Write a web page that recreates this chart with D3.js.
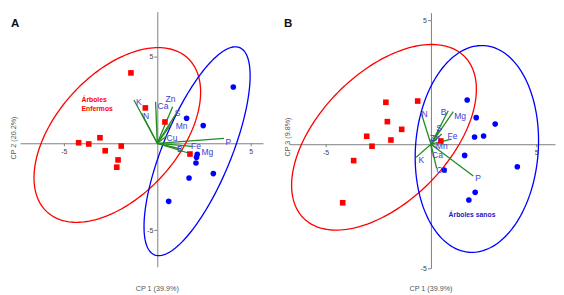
<!DOCTYPE html>
<html>
<head>
<meta charset="utf-8">
<script src="https://cdn.jsdelivr.net/npm/d3@7"></script>
<style>
  body { margin: 0; background: #fff; }
  svg { display: block; font-family: "Liberation Sans", Arial, sans-serif; }
</style>
</head>
<body>
<div id="chart"></div>
<script>
// size of the page
const width = 564;
const height = 295;

// ---- data: panel A (CP1 vs CP2) ----
const enfermosA = [[-1.41, 4.06], [-0.64, 2.04], [0.41, 1.23], [-3.07, 0.32], [-4.21, 0.03],
  [-3.67, -0.04], [-1.93, -0.16], [-2.79, -0.43], [-2.10, -0.96], [-2.17, -1.38], [1.75, -0.62]];
const sanosA = [[4.07, 3.25], [1.57, 1.44], [2.46, 1.02], [2.14, -0.63], [2.10, -0.81],
  [2.07, -1.14], [3.00, -1.75], [1.70, -2.00], [0.61, -3.35]];
const varsA = ["K", "N", "Ca", "Zn", "S", "Mn", "Cu", "P", "Fe", "B", "Mg"];
const loadA = [[-1.25, 2.50], [-0.84, 1.73], [-0.09, 2.40], [0.82, 2.11], [1.09, 1.86], [0.77, 1.15],
  [0.50, 0.42], [3.57, 0.28], [1.86, -0.18], [1.27, -0.33], [1.75, -0.59]];
// ellipses: [cx, cy, semi-major, semi-minor, angle in degrees]
const ellEnfermosA = [-2.14, 0.48, 5.83, 3.36, 52];
const ellSanosA = [2.13, -0.46, 6.40, 1.85, 69.4];

// ---- data: panel B (CP1 vs CP3) ----
const enfermosB = [[-2.14, 1.69], [-0.63, 1.74], [-2.07, 0.91], [-1.39, 0.60], [-3.05, 0.32],
  [-1.90, 0.17], [-2.80, -0.08], [-3.67, -0.66], [-4.19, -2.36], [0.47, 0.13]];
const sanosB = [[1.72, 1.78], [2.15, 1.07], [3.05, 0.81], [2.07, 0.29], [2.50, 0.33],
  [1.60, -0.45], [4.10, -0.91], [0.63, -1.04], [2.10, -1.94], [1.80, -2.25]];
const varsB = ["N", "B", "Mg", "Fe", "S", "Zn", "Mn", "Ca", "K", "Cu", "P"];
const loadB = [[-0.47, 1.28], [0.82, 1.35], [1.06, 1.31], [0.98, 0.21], [0.39, 0.57], [0.51, 0.41],
  [0.28, -0.15], [0.05, -0.35], [-0.71, -0.53], [0.27, -0.97], [2.01, -1.28]];
const ellEnfermosB = [-2.23, 0.28, 5.05, 2.78, 36.4];
const ellSanosB = [2.18, -0.19, 4.18, 2.91, 83.7];

const ticks = [-5, 5];

// label nudges (px) for the loading names
const nudgeA = { K: [2, 5.5], N: [1.5, 6], Ca: [2, 7], Zn: [-7, -5], S: [-3, 5], Mn: [4, 5.5],
  Cu: [0, 5], P: [1.5, 6.5], Fe: [-1, 2.5], B: [-4, 3], Mg: [11.5, 1.5] };
const nudgeB = { N: [0.5, 5], B: [-7.5, 4], Mg: [1, 7], Fe: [-4, -0.5], S: [-3, 1], Zn: [-12, 7],
  Mn: [-1, 1.5], Ca: [0, 5.5], K: [2.5, 5.5], Cu: [-0.5, 4.5], P: [2, 5] };

const red = "#ff0000", blue = "#0000ff", green = "#228b22", labBlue = "#3c3cd2";

const svg = d3.select("#chart")
  .append("svg")
  .attr("width", width)
  .attr("height", height);

function ellipsePoints(e) {
  const [cx, cy, a, b, deg] = e;
  const ang = deg * Math.PI / 180;
  return d3.range(0, 360, 2).map(t => {
    const r = t * Math.PI / 180;
    return [cx + a * Math.cos(r) * Math.cos(ang) - b * Math.sin(r) * Math.sin(ang),
            cy + a * Math.cos(r) * Math.sin(ang) + b * Math.sin(r) * Math.cos(ang)];
  });
}

function drawPanel(p) {
  const x = d3.scaleLinear().domain(p.xDom).range(p.xRange);
  const y = d3.scaleLinear().domain(p.yDom).range(p.yRange);
  const g = svg.append("g");

  // axes crossing at the origin
  const xAxis = g.append("g")
    .attr("transform", `translate(0,${y(0)})`)
    .call(d3.axisBottom(x).tickValues(ticks).tickSize(3).tickSizeOuter(0).tickPadding(3).tickFormat(d => String(d)));
  const yAxis = g.append("g")
    .attr("transform", `translate(${x(0)},0)`)
    .call(d3.axisLeft(y).tickValues(ticks).tickSize(3).tickSizeOuter(0).tickPadding(1).tickFormat(d => String(d)));
  [xAxis, yAxis].forEach(a => {
    a.select(".domain").attr("stroke", "#808080");
    a.selectAll(".tick line").attr("stroke", "#808080");
    a.selectAll(".tick text").attr("fill", "#444").style("font-size", "7px")
      .style("font-family", "Liberation Sans, Arial, sans-serif");
  });

  // confidence ellipses
  const line = d3.line().x(d => x(d[0])).y(d => y(d[1])).curve(d3.curveLinearClosed);
  g.append("path").attr("d", line(ellipsePoints(p.ellE)))
    .attr("fill", "none").attr("stroke", red).attr("stroke-width", 1.3);
  g.append("path").attr("d", line(ellipsePoints(p.ellS)))
    .attr("fill", "none").attr("stroke", blue).attr("stroke-width", 1.3);

  // loading vectors
  g.append("g").selectAll("line")
    .data(p.load)
    .join("line")
    .attr("x1", x(0)).attr("y1", y(0))
    .attr("x2", d => x(d[0])).attr("y2", d => y(d[1]))
    .attr("stroke", green).attr("stroke-width", 1.3);

  // observations
  g.append("g").selectAll("rect")
    .data(p.enf)
    .join("rect")
    .attr("x", d => x(d[0]) - 2.8).attr("y", d => y(d[1]) - 2.8)
    .attr("width", 5.6).attr("height", 5.6)
    .attr("fill", red);
  g.append("g").selectAll("circle")
    .data(p.san)
    .join("circle")
    .attr("cx", d => x(d[0])).attr("cy", d => y(d[1]))
    .attr("r", 2.8)
    .attr("fill", blue);

  // loading names
  g.append("g").selectAll("text")
    .data(p.load)
    .join("text")
    .attr("x", (d, i) => x(d[0]) + p.nudge[p.vars[i]][0])
    .attr("y", (d, i) => y(d[1]) + p.nudge[p.vars[i]][1])
    .attr("fill", labBlue)
    .style("font-size", "8.5px")
    .text((d, i) => p.vars[i]);

  // axis titles
  g.append("text")
    .attr("x", x(0)).attr("y", 290.5)
    .attr("text-anchor", "middle").attr("fill", "#555")
    .style("font-size", "7.2px")
    .text(p.xTitle);
  g.append("text")
    .attr("transform", `translate(${p.yTitleX},${p.yTitleY}) rotate(-90)`)
    .attr("text-anchor", "middle").attr("dy", "0.35em").attr("fill", "#555")
    .style("font-size", "7.2px")
    .text(p.yTitle);

  // panel letter
  g.append("text")
    .attr("x", p.letterX).attr("y", 27)
    .style("font-size", "11.5px").style("font-weight", "bold")
    .attr("fill", "#111")
    .text(p.letter);

  return { g, x, y };
}

const A = drawPanel({
  xDom: [-7.35, 5.66], xRange: [20, 263],
  yDom: [-7.12, 7.59], yRange: [266.7, 11.7],
  enf: enfermosA, san: sanosA, vars: varsA, load: loadA, nudge: nudgeA,
  ellE: ellEnfermosA, ellS: ellSanosA,
  xTitle: "CP 1 (39.9%)", yTitle: "CP 2 (20.2%)", yTitleX: 13, yTitleY: 138,
  letter: "A", letterX: 11
});
A.g.append("text")
  .attr("x", 81.5).attr("y", 101.5)
  .attr("fill", red).style("font-size", "6.8px").style("font-weight", "bold")
  .text("Árboles");
A.g.append("text")
  .attr("x", 81.5).attr("y", 110.8)
  .attr("fill", red).style("font-size", "6.8px").style("font-weight", "bold")
  .text("Enfermos");

const B = drawPanel({
  xDom: [-6.74, 5.89], xRange: [289, 555],
  yDom: [-5.0, 5.30], yRange: [268.3, 12.7],
  enf: enfermosB, san: sanosB, vars: varsB, load: loadB, nudge: nudgeB,
  ellE: ellEnfermosB, ellS: ellSanosB,
  xTitle: "CP 1 (39.9%)", yTitle: "CP 3 (9.8%)", yTitleX: 287, yTitleY: 137,
  letter: "B", letterX: 284
});
B.g.append("text")
  .attr("x", 472).attr("y", 216.5)
  .attr("text-anchor", "middle")
  .attr("fill", "#2020c8").style("font-size", "6.8px").style("font-weight", "bold")
  .text("Árboles sanos");
</script>
</body>
</html>
